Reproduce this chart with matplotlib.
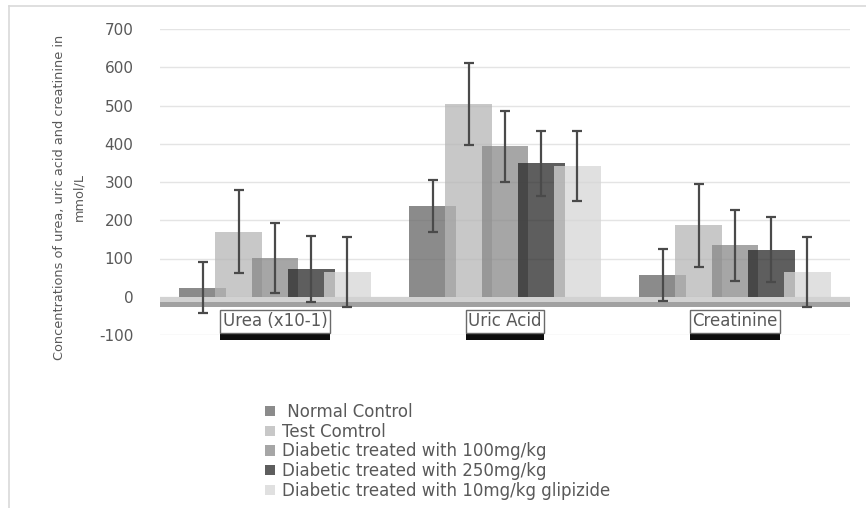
import numpy as np
import matplotlib
matplotlib.use('Agg')
import matplotlib.pyplot as plt
import matplotlib.patheffects as pe
from matplotlib.lines import Line2D

categories = ['Urea (x10-1)', 'Uric Acid', 'Creatinine']
series = [' Normal Control', 'Test Comtrol', 'Diabetic treated with 100mg/kg',
          'Diabetic treated with 250mg/kg', 'Diabetic treated with 10mg/kg glipizide']
means = [
    [24, 237, 57],
    [170, 504, 187],
    [101, 393, 135],
    [72, 349, 123],
    [64, 342, 65],
]
errors = [
    [66, 67, 67],
    [108, 108, 108],
    [91, 92, 93],
    [86, 85, 85],
    [92, 92, 92],
]
colors = ['#656565', '#b6b6b6', '#888888', '#282828', '#d6d6d6']
yticks = [-100, 0, 100, 200, 300, 400, 500, 600, 700]

plt.rcParams['font.family'] = ['DejaVu Sans']
fig = plt.figure(figsize=(8.66, 5.08), dpi=100)
ax = fig.add_axes([160 / 866, 1 - 335 / 508, 690 / 866, 306 / 508])

x = np.arange(len(categories))
width = 0.204
step = 0.157
for i, (name, m, e, c) in enumerate(zip(series, means, errors, colors)):
    pos = x + (i - 2) * step
    ax.bar(pos, m, width, color=c, alpha=0.75, label=name, zorder=2 + i)
    ax.errorbar(pos, m, yerr=e, fmt='none', ecolor='#4a4a4a', elinewidth=1.6,
                capsize=3.5, capthick=1.6, zorder=10)

# floor band under zero
ax.axhspan(-13, 0, color='#d2d2d2', zorder=1.5, lw=0)
ax.axhspan(-26, -13, color='#8a8a8a', zorder=1.5, lw=0, alpha=0.8)

ax.set_xlim(-0.5, 2.5)
ax.set_ylim(-100, 700)
ax.set_yticks(yticks)
ax.set_yticklabels([str(t) for t in yticks])
ax.set_xticks([])
ax.tick_params(axis='y', length=0, pad=19, labelsize=11, labelcolor='#595959')
ax.grid(axis='y', color='#e4e4e4', lw=1, zorder=0)
ax.set_axisbelow(True)
for s in ax.spines.values():
    s.set_visible(False)

# category labels in boxes with a dark drop shadow
for xi, lab in zip(x, categories):
    t = ax.text(xi, -64, lab, ha='center', va='center', fontsize=12, color='#595959',
                bbox=dict(boxstyle='square,pad=0.15', fc='white', ec='#6a6a6a', lw=1),
                zorder=12)
    t.get_bbox_patch().set_path_effects([
        pe.SimplePatchShadow(offset=(0, -5), shadow_rgbFace='black', alpha=0.95),
        pe.Normal()])

fig.text(69 / 866, 1 - 197 / 508,
         'Concentrations of urea, uric acid and creatinine in\nmmol/L',
         rotation=90, ha='center', va='center', fontsize=9.3, color='#595959',
         linespacing=1.6)

handles, labels = ax.get_legend_handles_labels()
fig.legend(handles, labels, loc='upper left', bbox_to_anchor=(265 / 866, 1 - 403 / 508),
           frameon=False, fontsize=12, labelcolor='#595959', borderpad=0,
           borderaxespad=0, handlelength=0.6, handleheight=0.6, handletextpad=0.4,
           labelspacing=0.1)

# light frame on left/top
fig.add_artist(Line2D([9 / 866, 9 / 866], [0, 1 - 6 / 508], color='#d9d9d9', lw=1.2))
fig.add_artist(Line2D([9 / 866, 1], [1 - 6 / 508, 1 - 6 / 508], color='#d9d9d9', lw=1.2))

fig.savefig('out.png', dpi=100)
